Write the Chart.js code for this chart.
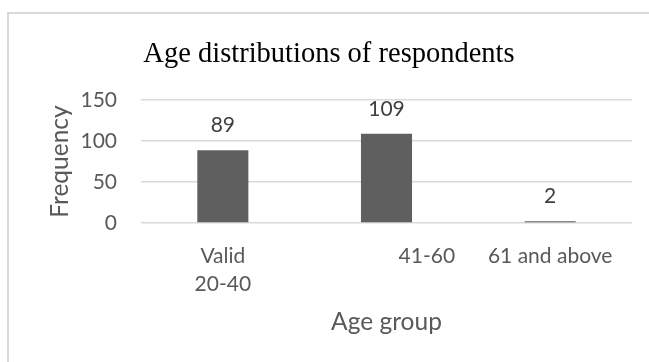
<!DOCTYPE html>
<html>
<head>
<meta charset="utf-8">
<title>Age distributions of respondents</title>
<script src="https://cdn.jsdelivr.net/npm/chart.js@4/dist/chart.umd.min.js"></script>
<style>
  html, body { margin: 0; padding: 0; background: #fff; overflow: hidden; }
  #frame {
    position: absolute; left: 7px; top: 12px; width: 700px; height: 400px;
    border-top: 2px solid #d9d9d9; border-left: 2px solid #d9d9d9;
  }
  #wrap { position: absolute; left: 0; top: 0; width: 649px; height: 362px; }
</style>
</head>
<body>
<div id="frame"></div>
<div id="wrap"><canvas id="ageChart"></canvas></div>
<script>
// Age groups and respondent counts
const ageGroups = [['Valid', '20-40'], '41-60', '61 and above'];
const frequencies = [89, 109, 2];
const yTicks = [0, 50, 100, 150];

const textGray = '#595959';

// Draw the count above every bar
const barValues = {
  id: 'barValues',
  afterDatasetsDraw(chart) {
    const { ctx } = chart;
    const meta = chart.getDatasetMeta(0);
    ctx.save();
    ctx.font = '21px Lato';
    ctx.fillStyle = '#404040';
    ctx.textAlign = 'center';
    ctx.textBaseline = 'middle';
    meta.data.forEach((bar, i) => {
      ctx.fillText(String(chart.data.datasets[0].data[i]), bar.x, bar.y - 25);
    });
    ctx.restore();
  }
};

new Chart(document.getElementById('ageChart'), {
  type: 'bar',
  data: {
    labels: ageGroups,
    datasets: [{
      label: 'Frequency',
      data: frequencies,
      backgroundColor: '#5f5f5f',
      borderWidth: 0,
      categoryPercentage: 1,
      barPercentage: 0.312
    }]
  },
  options: {
    responsive: true,
    maintainAspectRatio: false,
    animation: false,
    layout: { padding: { top: 0, right: 17, bottom: 0, left: 26 } },
    plugins: {
      legend: { display: false },
      tooltip: { enabled: false },
      title: {
        display: true,
        text: 'Age distributions of respondents',
        color: '#000',
        font: { family: 'Liberation Serif', size: 28.5, weight: 'normal' },
        padding: { top: 37, bottom: 29 }
      }
    },
    scales: {
      x: {
        grid: { display: false, drawTicks: false },
        border: { display: false },
        ticks: {
          color: textGray,
          font: { family: 'Lato', size: 21, lineHeight: 1.33 },
          padding: 19,
          maxRotation: 0,
          autoSkip: false,
          // the middle label sits to the right of its bar
          callback: function (value, index) {
            const label = this.getLabelForValue(value);
            return index === 1 ? ' '.repeat(15) + label : label;
          }
        },
        title: {
          display: true,
          text: 'Age group',
          color: textGray,
          font: { family: 'Lato', size: 24.5 },
          padding: { top: 0, bottom: 25 }
        },
        afterFit: (scale) => { scale.height = 139; }
      },
      y: {
        min: 0,
        max: 150,
        afterBuildTicks: (scale) => { scale.ticks = yTicks.map(v => ({ value: v })); },
        grid: { color: '#d9d9d9', lineWidth: 1.5, drawTicks: false },
        border: { display: false },
        ticks: {
          color: textGray,
          font: { family: 'Lato', size: 21 },
          padding: 24
        },
        title: {
          display: true,
          text: 'Frequency',
          color: textGray,
          font: { family: 'Lato', size: 24.5 },
          padding: { top: 19, bottom: 0 }
        },
        afterFit: (scale) => { scale.width = 115; }
      }
    }
  },
  plugins: [barValues]
});
</script>
</body>
</html>
